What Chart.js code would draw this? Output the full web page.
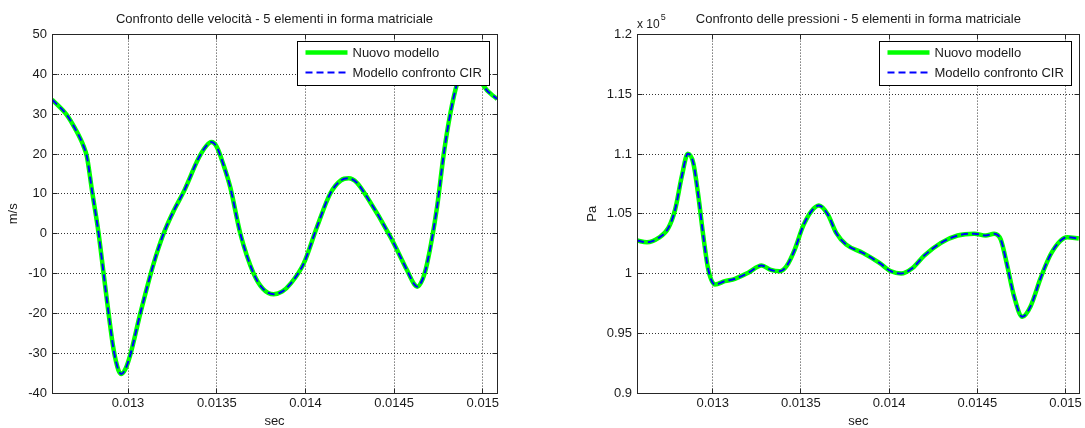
<!DOCTYPE html>
<html>
<head>
<meta charset="utf-8">
<title>Confronto velocità e pressioni</title>
<script src="https://cdn.jsdelivr.net/npm/chart.js@4.4.0/dist/chart.umd.min.js"></script>
<style>
  html, body { margin: 0; padding: 0; background: #fff; }
  #wrap { position: relative; width: 1085px; height: 428px; overflow: hidden; }
  canvas { position: absolute; top: 0; }
  #velCanvas { left: 0; }
  #presCanvas { left: 545px; }
</style>
</head>
<body>
<div id="wrap">
  <canvas id="velCanvas" width="545" height="428"></canvas>
  <canvas id="presCanvas" width="540" height="428"></canvas>
</div>
<script>
// series names (both models overlap exactly in the picture)
const seriesNames = ['Nuovo modello', 'Modello confronto CIR'];

// velocity [m/s] vs time [s]
const velTime = [0.012571, 0.012655, 0.0127, 0.012749, 0.012768, 0.012796, 0.012834, 0.012862, 0.01289, 0.012918,
  0.012945, 0.012962, 0.012985, 0.013012, 0.013069, 0.013144, 0.0132, 0.01326, 0.013313, 0.013398,
  0.01344, 0.01347, 0.0135, 0.01354, 0.013577, 0.013633, 0.013708, 0.01376, 0.013821, 0.01387,
  0.013915, 0.01399, 0.014065, 0.01414, 0.0142, 0.014244, 0.01429, 0.014347, 0.014479, 0.014573,
  0.014615, 0.01463, 0.01466, 0.014686, 0.014742, 0.01478, 0.014817, 0.014855, 0.0149, 0.01494,
  0.014975, 0.015005, 0.015081];
const velValues = [33.7, 29.8, 26.5, 22.0, 19.3, 11.0, 0, -10, -20, -29,
  -34.2, -35.2, -34.0, -30.5, -20, -7.5, 0, 6, 10.5, 19,
  22, 23, 21.8, 17, 11.5, 0, -10, -13.8, -15.2, -14.5,
  -12.6, -7.5, 1.7, 10.1, 13.4, 13.9, 12.8, 9.2, -0.8, -9.2,
  -12.8, -13.3, -11.5, -7.5, 6.7, 20.1, 30.2, 37.7, 42.5, 43.5,
  40.5, 37.1, 33.8];

// pressure [Pa] vs time [s]
const presTime = [0.012571, 0.012627, 0.012693, 0.012749, 0.012787, 0.012825, 0.012859, 0.01289, 0.012919, 0.012947,
  0.012975, 0.013013, 0.013069, 0.013126, 0.013201, 0.013277, 0.01333, 0.01338, 0.013418, 0.013465,
  0.013512, 0.013559, 0.013602, 0.013653, 0.0137, 0.013757, 0.013851, 0.013945, 0.014011, 0.014068,
  0.014133, 0.014199, 0.014294, 0.014388, 0.014482, 0.014548, 0.014595, 0.014633, 0.01467, 0.014708,
  0.014755, 0.014802, 0.014859, 0.014915, 0.014972, 0.015009, 0.015075];
const presValues = [102760, 102620, 102980, 103820, 105350, 108140, 110030, 109260, 106460, 103120,
  100330, 99080, 99360, 99560, 100060, 100670, 100300, 100190, 100610, 102010,
  103960, 105210, 105690, 104930, 103400, 102420, 101730, 100890, 100190, 100000,
  100470, 101500, 102570, 103180, 103340, 103180, 103340, 102840, 100610, 98100,
  96380, 97270, 99640, 101590, 102760, 103040, 102930];

// tick labels
const timeTicks = [0.013, 0.0135, 0.014, 0.0145, 0.015];
const velTicks = [-40, -30, -20, -10, 0, 10, 20, 30, 40, 50];
const presTicks = [90000, 95000, 100000, 105000, 110000, 115000, 120000];

const xMin = 0.012571, xMax = 0.01508;
const FONT = "'Liberation Sans', Arial, Helvetica, sans-serif";
const TEXT = '#1a1a1a';

Chart.defaults.font.family = FONT;
Chart.defaults.font.size = 13;
Chart.defaults.color = TEXT;

// matlab-like box, inward ticks, legend box and exponent label
const matlabAxes = {
  id: 'matlabAxes',
  afterDatasetsDraw(chart, args, opts) {
    const ctx = chart.ctx;
    const a = chart.chartArea;
    const al = p => Math.round(p - 0.5) + 0.5;
    const L = al(a.left), R = al(a.right), T = al(a.top), B = al(a.bottom);
    ctx.save();
    ctx.strokeStyle = '#262626';
    ctx.lineWidth = 1;
    ctx.beginPath();
    chart.scales.x.ticks.forEach(t => {
      const px = al(chart.scales.x.getPixelForValue(t.value));
      ctx.moveTo(px, B); ctx.lineTo(px, B - 5);
      ctx.moveTo(px, T); ctx.lineTo(px, T + 5);
    });
    chart.scales.y.ticks.forEach(t => {
      const py = al(chart.scales.y.getPixelForValue(t.value));
      ctx.moveTo(L, py); ctx.lineTo(L + 5, py);
      ctx.moveTo(R, py); ctx.lineTo(R - 5, py);
    });
    ctx.stroke();
    ctx.strokeRect(L, T, R - L, B - T);

    // legend
    ctx.font = '13px ' + FONT;
    const sets = chart.data.datasets;
    const tw = Math.max(...sets.map(d => ctx.measureText(d.label).width));
    const w = Math.round(55 + tw + 8), h = 44;
    const x0 = al(a.right - 8 - w), y0 = al(a.top + 7);
    ctx.fillStyle = '#fff';
    ctx.fillRect(x0, y0, w, h);
    ctx.strokeStyle = '#000';
    ctx.strokeRect(x0, y0, w, h);
    sets.forEach((d, i) => {
      const cy = y0 + 11 + i * 20;
      ctx.save();
      ctx.strokeStyle = d.borderColor;
      ctx.lineWidth = d.borderWidth;
      ctx.setLineDash(d.borderDash || []);
      ctx.beginPath();
      ctx.moveTo(x0 + 8, cy);
      ctx.lineTo(x0 + 50, cy);
      ctx.stroke();
      ctx.restore();
      ctx.fillStyle = TEXT;
      ctx.textAlign = 'left';
      ctx.textBaseline = 'middle';
      ctx.fillText(d.label, x0 + 55, cy + 1);
    });

    if (opts && opts.exponent) {
      ctx.fillStyle = TEXT;
      ctx.textAlign = 'left';
      ctx.textBaseline = 'alphabetic';
      ctx.font = '12px ' + FONT;
      ctx.fillText('x 10', a.left, a.top - 7);
      const w10 = ctx.measureText('x 10').width;
      ctx.font = '9px ' + FONT;
      ctx.fillText(String(opts.exponent), a.left + w10 + 1, a.top - 15);
    }
    ctx.restore();
  }
};

function toPoints(xs, ys) {
  return xs.map((x, i) => ({ x: x, y: ys[i] }));
}

function makeDatasets(xs, ys) {
  return [
    {
      label: seriesNames[0],
      data: toPoints(xs, ys),
      borderColor: '#00ff00',
      borderWidth: 4.5,
      pointRadius: 0,
      cubicInterpolationMode: 'monotone',
      order: 1
    },
    {
      label: seriesNames[1],
      data: toPoints(xs, ys),
      borderColor: '#0000ff',
      borderWidth: 2,
      borderDash: [7, 4],
      pointRadius: 0,
      cubicInterpolationMode: 'monotone',
      order: 0
    }
  ];
}

function makeChart(canvasId, o) {
  const gridDots = { color: 'rgba(0,0,0,0.8)', lineWidth: 1, drawTicks: false };
  return new Chart(document.getElementById(canvasId).getContext('2d'), {
    type: 'line',
    data: { datasets: makeDatasets(o.xs, o.ys) },
    options: {
      responsive: false,
      animation: false,
      devicePixelRatio: 1,
      layout: { padding: { left: 0, right: o.padRight, top: 0, bottom: 0 } },
      plugins: {
        legend: { display: false },
        tooltip: { enabled: false },
        title: {
          display: true,
          text: o.title,
          fullSize: false,
          color: TEXT,
          font: { size: 13, weight: 'normal' },
          padding: { top: 12, bottom: 7 }
        },
        matlabAxes: { exponent: o.exponent }
      },
      scales: {
        x: {
          type: 'linear',
          min: xMin,
          max: xMax,
          afterBuildTicks: s => { s.ticks = timeTicks.map(v => ({ value: v })); },
          afterFit: s => { s.height = 35; },
          grid: gridDots,
          border: { display: false, dash: [1, 2] },
          ticks: { padding: 3, autoSkip: false, maxRotation: 0, color: TEXT,
            callback: v => String(+v.toFixed(4)) },
          title: { display: true, text: 'sec', color: TEXT, padding: { top: 0, bottom: -1 } }
        },
        y: {
          type: 'linear',
          min: o.yTicks[0],
          max: o.yTicks[o.yTicks.length - 1],
          afterBuildTicks: s => { s.ticks = o.yTicks.map(v => ({ value: v })); },
          afterFit: s => { s.width = o.yWidth; },
          grid: gridDots,
          border: { display: false, dash: [1, 2] },
          ticks: { padding: 5, color: TEXT, callback: o.yFormat },
          title: { display: true, text: o.yLabel, color: TEXT, padding: { top: o.yTitlePad, bottom: 0 } }
        }
      }
    },
    plugins: [matlabAxes]
  });
}

makeChart('velCanvas', {
  xs: velTime, ys: velValues, yTicks: velTicks,
  title: 'Confronto delle velocità - 5 elementi in forma matriciale',
  yLabel: 'm/s', yWidth: 52, yTitlePad: 6, padRight: 48,
  yFormat: v => String(v)
});

makeChart('presCanvas', {
  xs: presTime, ys: presValues, yTicks: presTicks,
  title: 'Confronto delle pressioni - 5 elementi in forma matriciale',
  yLabel: 'Pa', yWidth: 92, yTitlePad: 40, padRight: 5, exponent: 5,
  yFormat: v => String(+(v / 1e5).toFixed(2))
});
</script>
</body>
</html>
